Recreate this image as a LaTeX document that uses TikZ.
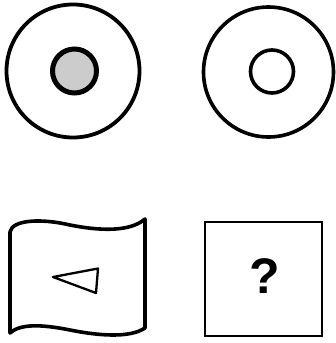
\documentclass[tikz,border=0pt]{standalone}
\usepackage{fontspec}
\setsansfont{Liberation Sans}
\begin{document}
\begin{tikzpicture}[x=1pt,y=-1pt]
\useasboundingbox (0,0) rectangle (336,343);
% top row
\draw[line width=3.8pt] (73,71) circle (66.5);
\draw[line width=5pt,fill=black!20] (74.5,71) circle (22);
\draw[line width=3.6pt] (268.5,72) circle (65);
\draw[line width=3.6pt] (272,71.5) circle (21.5);
% bottom row
\draw[line width=3.6pt,line join=round] (10,333) -- (10,232)
  .. controls (12,220) and (40,218) .. (70,225)
  .. controls (100,231) and (130,232) .. (145,219) -- (145,328)
  .. controls (130,338) and (100,336) .. (70,330)
  .. controls (40,324) and (20,324) .. cycle;
\draw[line width=2.3pt,line join=round] (53,277) -- (98,268.5) -- (96,293) -- cycle;
\draw[line width=2.5pt] (205,222) rectangle (322,336);
\node[font=\sffamily\bfseries\fontsize{50}{50}\selectfont] (q) at (264.5,276) {?};
\end{tikzpicture}
\end{document}
